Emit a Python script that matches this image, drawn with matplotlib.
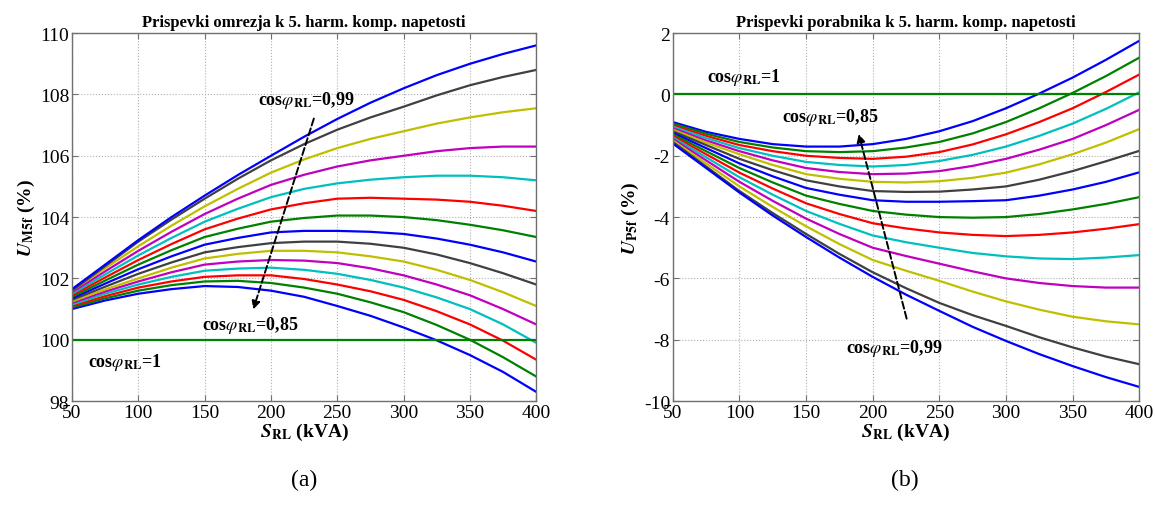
import numpy as np
import matplotlib.pyplot as plt

plt.rcParams['font.family'] = ['Liberation Serif', 'DejaVu Serif']
plt.rcParams['mathtext.fontset'] = 'stix'
plt.rcParams['axes.unicode_minus'] = False

# x axis: apparent power of the load (kVA)
s_rl = [50, 75, 100, 125, 150, 175, 200, 225, 250, 275, 300, 325, 350, 375, 400]
x_ticks = [50, 100, 150, 200, 250, 300, 350, 400]

# cos phi of the load for each curve (plotted in this order)
cos_phi = [0.85, 0.86, 0.87, 0.88, 0.89, 0.90, 0.91, 0.92,
           0.93, 0.94, 0.95, 0.96, 0.97, 0.98, 0.99]

# (a) grid contribution U_M5f (%)
u_m5f = [
    [101.00, 101.28, 101.50, 101.65, 101.75, 101.72, 101.60, 101.40, 101.10, 100.78, 100.40, 99.98, 99.50, 98.95, 98.30],
    [101.05, 101.35, 101.60, 101.78, 101.90, 101.92, 101.85, 101.70, 101.50, 101.22, 100.90, 100.48, 100.00, 99.43, 98.80],
    [101.10, 101.42, 101.70, 101.90, 102.05, 102.10, 102.10, 101.98, 101.80, 101.58, 101.30, 100.93, 100.50, 99.97, 99.35],
    [101.15, 101.50, 101.80, 102.05, 102.25, 102.32, 102.35, 102.28, 102.15, 101.95, 101.70, 101.38, 101.00, 100.50, 99.90],
    [101.20, 101.57, 101.90, 102.20, 102.45, 102.55, 102.60, 102.58, 102.50, 102.33, 102.10, 101.80, 101.45, 101.00, 100.50],
    [101.25, 101.64, 102.00, 102.35, 102.65, 102.80, 102.90, 102.90, 102.85, 102.72, 102.55, 102.28, 101.95, 101.55, 101.10],
    [101.30, 101.73, 102.15, 102.52, 102.85, 103.02, 103.15, 103.20, 103.20, 103.13, 103.00, 102.78, 102.50, 102.17, 101.80],
    [101.35, 101.83, 102.30, 102.72, 103.10, 103.32, 103.50, 103.55, 103.55, 103.52, 103.45, 103.30, 103.10, 102.85, 102.55],
    [101.40, 101.93, 102.45, 102.92, 103.35, 103.62, 103.85, 103.97, 104.05, 104.05, 104.00, 103.90, 103.75, 103.57, 103.35],
    [101.45, 102.03, 102.60, 103.12, 103.60, 103.95, 104.25, 104.45, 104.60, 104.63, 104.60, 104.57, 104.50, 104.37, 104.20],
    [101.50, 102.13, 102.75, 103.32, 103.85, 104.27, 104.65, 104.92, 105.10, 105.22, 105.30, 105.35, 105.35, 105.30, 105.20],
    [101.55, 102.23, 102.90, 103.52, 104.10, 104.60, 105.05, 105.38, 105.65, 105.85, 106.00, 106.15, 106.25, 106.30, 106.30],
    [101.60, 102.33, 103.05, 103.72, 104.35, 104.92, 105.45, 105.88, 106.25, 106.55, 106.80, 107.05, 107.25, 107.42, 107.55],
    [101.60, 102.40, 103.20, 103.92, 104.60, 105.25, 105.85, 106.38, 106.85, 107.25, 107.60, 107.97, 108.30, 108.57, 108.80],
    [101.65, 102.45, 103.25, 104.00, 104.70, 105.37, 106.00, 106.62, 107.20, 107.73, 108.20, 108.63, 109.00, 109.32, 109.60],
]
u_m5f_pf1 = [100.0] * 15

# (b) load contribution U_P5f (%)
u_p5f = [
    [-0.90, -1.22, -1.45, -1.62, -1.70, -1.70, -1.62, -1.45, -1.20, -0.87, -0.45, 0.03, 0.55, 1.13, 1.75],
    [-0.95, -1.28, -1.55, -1.73, -1.85, -1.88, -1.85, -1.73, -1.55, -1.27, -0.90, -0.45, 0.05, 0.60, 1.20],
    [-1.00, -1.35, -1.65, -1.85, -2.00, -2.07, -2.10, -2.03, -1.88, -1.63, -1.30, -0.90, -0.45, 0.08, 0.65],
    [-1.05, -1.42, -1.75, -2.00, -2.20, -2.30, -2.35, -2.30, -2.17, -1.97, -1.70, -1.35, -0.95, -0.47, 0.07],
    [-1.10, -1.50, -1.85, -2.15, -2.40, -2.53, -2.60, -2.58, -2.50, -2.33, -2.10, -1.80, -1.45, -1.00, -0.50],
    [-1.15, -1.57, -1.95, -2.30, -2.60, -2.75, -2.85, -2.87, -2.83, -2.72, -2.55, -2.28, -1.95, -1.57, -1.13],
    [-1.20, -1.65, -2.10, -2.47, -2.80, -3.00, -3.15, -3.18, -3.17, -3.10, -3.00, -2.78, -2.50, -2.18, -1.84],
    [-1.25, -1.75, -2.25, -2.67, -3.05, -3.27, -3.45, -3.50, -3.50, -3.48, -3.45, -3.30, -3.10, -2.85, -2.54],
    [-1.30, -1.85, -2.40, -2.87, -3.30, -3.57, -3.80, -3.92, -4.00, -4.02, -4.00, -3.90, -3.75, -3.57, -3.35],
    [-1.35, -1.95, -2.55, -3.07, -3.55, -3.90, -4.20, -4.37, -4.50, -4.58, -4.62, -4.58, -4.50, -4.38, -4.23],
    [-1.40, -2.05, -2.70, -3.27, -3.80, -4.22, -4.60, -4.82, -5.00, -5.17, -5.28, -5.35, -5.37, -5.32, -5.24],
    [-1.45, -2.15, -2.85, -3.47, -4.05, -4.55, -5.00, -5.27, -5.52, -5.77, -6.00, -6.15, -6.25, -6.30, -6.30],
    [-1.50, -2.25, -3.00, -3.67, -4.30, -4.88, -5.40, -5.75, -6.08, -6.43, -6.75, -7.02, -7.25, -7.40, -7.50],
    [-1.55, -2.35, -3.15, -3.87, -4.55, -5.20, -5.80, -6.32, -6.80, -7.20, -7.55, -7.92, -8.25, -8.55, -8.80],
    [-1.60, -2.40, -3.20, -3.95, -4.65, -5.32, -5.95, -6.53, -7.06, -7.58, -8.04, -8.47, -8.86, -9.22, -9.54],
]
u_p5f_pf1 = [0.0] * 15

# matlab default line colours
colors = ['#0000ff', '#008000', '#ff0000', '#00bfbf', '#bf00bf', '#bfbf00', '#404040']

fig = plt.figure(figsize=(11.56, 5.06), dpi=100)
ax1 = fig.add_axes([0.0623, 0.2055, 0.4015, 0.727])
ax2 = fig.add_axes([0.582, 0.2055, 0.4035, 0.727])


def style_axes(ax, ylim, yticks):
    ax.set_xlim(50, 400)
    ax.set_ylim(*ylim)
    ax.set_xticks(x_ticks)
    ax.set_yticks(yticks)
    ax.grid(True, linestyle=':', color='#b0b0b0', linewidth=0.8)
    ax.tick_params(direction='in', top=True, right=True, labelsize=14,
                   color='#707070', length=4, pad=2)
    for sp in ax.spines.values():
        sp.set_color('#707070')
        sp.set_linewidth(1.0)
    ax.set_xlabel(r'$\boldsymbol{S}_{\mathbf{RL}}$ (kVA)', fontsize=14,
                  fontweight='bold', labelpad=0)


def label(ax, x, y, val, **kw):
    ax.text(x, y, r'cos$\varphi_{\mathbf{RL}}$=' + val, fontsize=13,
            fontweight='bold', **kw)


# (a)
for i, row in enumerate(u_m5f):
    ax1.plot(s_rl, row, color=colors[i % 7], linewidth=1.6)
ax1.plot(s_rl, u_m5f_pf1, color=colors[1], linewidth=1.6)
style_axes(ax1, (98, 110), range(98, 111, 2))
ax1.set_title('Prispevki omrezja k 5. harm. komp. napetosti', fontsize=12,
              fontweight='bold', pad=5)
ax1.set_ylabel(r'$\boldsymbol{U}_{\mathbf{M5f}}$ (%)', fontsize=14,
               fontweight='bold', labelpad=2)
label(ax1, 190, 107.7, '0,99')
label(ax1, 148, 100.35, '0,85')
label(ax1, 62, 99.15, '1')
ax1.annotate('', xy=(186, 100.9), xytext=(233, 107.3),
             arrowprops=dict(arrowstyle='-|>', linestyle='--', color='black',
                             lw=1.4, mutation_scale=12))

# (b)
for i, row in enumerate(u_p5f):
    ax2.plot(s_rl, row, color=colors[i % 7], linewidth=1.6)
ax2.plot(s_rl, u_p5f_pf1, color=colors[1], linewidth=1.6)
style_axes(ax2, (-10, 2), range(-10, 3, 2))
ax2.set_title('Prispevki porabnika k 5. harm. komp. napetosti', fontsize=12,
              fontweight='bold', pad=5)
ax2.set_ylabel(r'$\boldsymbol{U}_{\mathbf{P5f}}$ (%)', fontsize=14,
               fontweight='bold', labelpad=2)
label(ax2, 76, 0.45, '1')
label(ax2, 132, -0.85, '0,85')
label(ax2, 180, -8.4, '0,99')
ax2.annotate('', xy=(189, -1.2), xytext=(226, -7.4),
             arrowprops=dict(arrowstyle='-|>', linestyle='--', color='black',
                             lw=1.4, mutation_scale=12))

fig.text(0.263, 0.04, '(a)', fontsize=17, ha='center')
fig.text(0.783, 0.04, '(b)', fontsize=17, ha='center')

fig.savefig('out.png', dpi=100, facecolor='white')
